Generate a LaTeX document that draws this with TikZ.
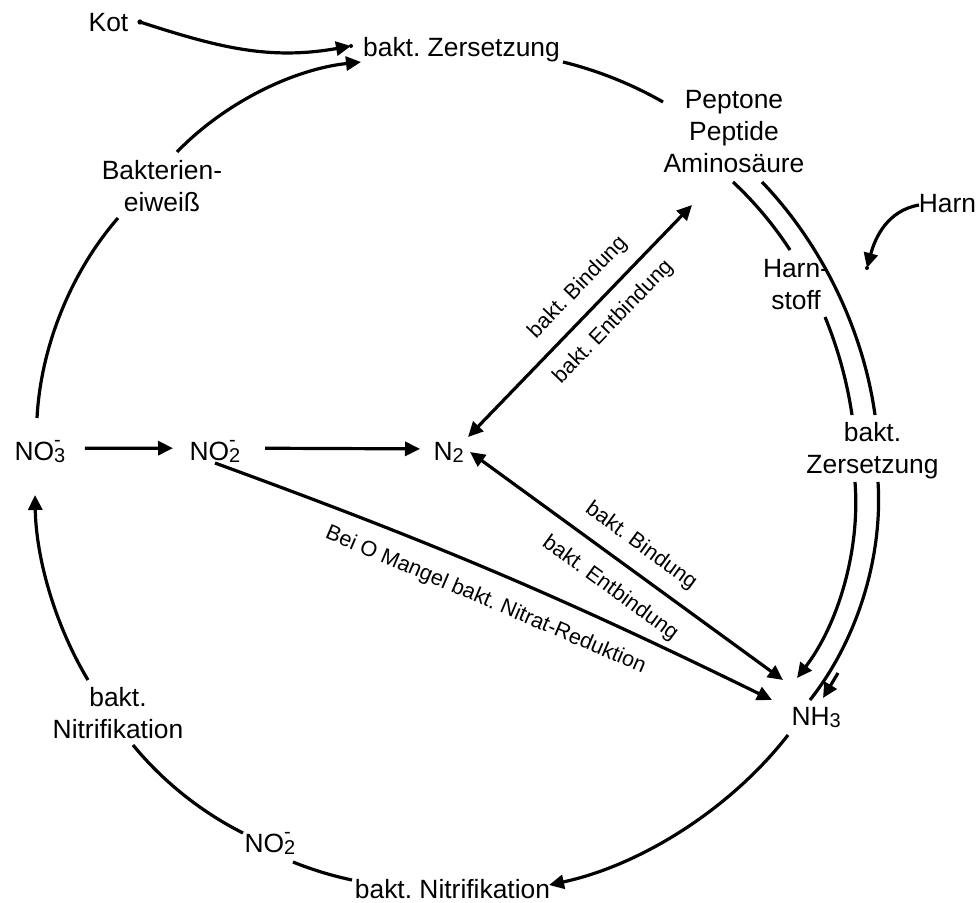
\documentclass[tikz,border=0pt]{standalone}
\usepackage{fontspec}
\setmainfont{Liberation Sans}
\usetikzlibrary{arrows.meta}
\frenchspacing
\newcommand\chemion[1]{\rlap{\raisebox{6.8pt}{\fontsize{10}{10}\selectfont -}}\raisebox{-1pt}{\fontsize{10}{10}\selectfont #1}}
\newcommand\chemsub[1]{\raisebox{-1pt}{\fontsize{10}{10}\selectfont #1}}
\begin{document}
\begin{tikzpicture}[x=0.5pt,y=0.5pt,line width=1.6pt,
  txt/.style={font=\fontsize{13.2}{16}\selectfont, inner sep=0pt, align=center},
  lbl/.style={font=\fontsize{10.8}{13}\selectfont, sloped, inner sep=6.5pt},
  arr/.style={-{Triangle[length=7.5pt,width=7pt]}},
  dbl/.style={{Triangle[length=7.5pt,width=7pt]}-{Triangle[length=7.5pt,width=7pt]}},
  arcl/.style={looseness=0.85}]
\fill[white] (0,0) rectangle (978,-903);
\useasboundingbox (0,0) rectangle (978,-903);

% text nodes
\node[txt, anchor=base] (kot) at (108.5,-32) {Kot};
\node[txt, anchor=base] (zerstop) at (461.5,-57) {bakt. Zersetzung};
\node[txt, anchor=north] (pep) at (734,-89) {Peptone\\Peptide\\Aminosäure};
\node[txt, anchor=north] (harnstoff) at (796,-258) {Harn-\\stoff};
\node[txt, anchor=base] (harn) at (947.5,-213) {Harn};
\node[txt, anchor=north] (zersr) at (872.5,-421) {bakt.\\Zersetzung};
\node[txt, anchor=north] (eiw) at (162,-159) {Bakterien-\\eiweiß};
\node[txt, anchor=base west] (no3) at (13,-460) {NO\chemion{3}};
\node[txt, anchor=base west] (no2) at (188,-460) {NO\chemion{2}};
\node[txt, anchor=base west] (ntwo) at (432,-460) {N\chemsub{2}};
\node[txt, anchor=north] (nitl) at (118,-686) {bakt.\\Nitrifikation};
\node[txt, anchor=base west] (no2b) at (243,-852) {NO\chemion{2}};
\node[txt, anchor=base] (nitb) at (452.5,-898) {bakt. Nitrifikation};
\node[txt, anchor=base west] (nh3) at (790,-725) {NH\chemsub{3}};

% connector end points
\coordinate (kotS) at (140,-22);
\coordinate (kotE) at (351,-46);
\coordinate (e1) at (177,-152);
\coordinate (e2) at (361,-62);
\coordinate (l1) at (37,-418);
\coordinate (l2) at (118,-218);
\coordinate (t1) at (563,-62);
\coordinate (t2) at (663,-102);
\coordinate (i1) at (733,-182);
\coordinate (i2) at (790,-250);
\coordinate (i3) at (825,-317);
\coordinate (i4) at (852,-415);
\coordinate (i5) at (855,-482);
\coordinate (i6) at (797,-678);
\coordinate (o1) at (762,-182);
\coordinate (o2) at (875,-415);
\coordinate (o3) at (878,-482);
\coordinate (o4) at (810,-700);
\coordinate (s1) at (838,-673);
\coordinate (s2) at (823,-698);
\coordinate (h1) at (919,-205);
\coordinate (h2) at (867,-268);
\coordinate (b1) at (788,-735);
\coordinate (b2) at (549,-885);
\coordinate (b3) at (352,-880);
\coordinate (b4) at (293,-862);
\coordinate (b5) at (243,-833);
\coordinate (b6) at (133,-745);
\coordinate (la1) at (88,-680);
\coordinate (la2) at (35,-495);
\coordinate (d1) at (468,-437);
\coordinate (d2) at (692,-205);
\coordinate (d3) at (470,-452);
\coordinate (d4) at (783,-680);
\coordinate (d5) at (215,-463);
\coordinate (d6) at (772,-700);

% Kot and Harn inputs
\draw[arr] (kotS) to[out=-18, in=190] (kotE);
\fill (kotS) circle (1.3pt);
\fill (kotE) circle (1pt);
\draw[arr] (h1) to[out=190, in=75] (h2);
\fill (h2) circle (1pt);

% outer cycle
\draw[arr, arcl] (e1) to[bend left=20] (e2);
\draw[arcl] (l1) to[bend left=19] (l2);
\draw[arcl] (t1) to[bend left=8] (t2);
\draw[arcl] (i1) to[bend left=7] (i2);
\draw[arcl] (i3) to[bend left=7] (i4);
\draw[arr, arcl] (i5) to[bend left=21] (i6);
\draw[arcl] (o1) to[bend left=18] (o2);
\draw[arcl] (o3) to[bend left=21] (o4);
\draw[arr] (s1) -- (s2);
\draw[arr, arcl] (b1) to[bend left=20] (b2);
\draw[arcl] (b3) to[bend left=5] (b4);
\draw[arcl] (b5) to[bend left=12] (b6);
\draw[arr, arcl] (la1) to[bend left=15] (la2);

% inner connections
\draw[arr, shorten <=9pt, shorten >=7.5pt] ([yshift=1.5pt]no3.east) -- ([yshift=1.5pt]no2.west);
\draw[arr, shorten <=11.6pt, shorten >=6pt] ([yshift=1.5pt]no2.east) -- ([yshift=1.5pt]ntwo.west);
\draw[dbl] (d1) -- node[lbl, above, pos=0.57] {bakt. Bindung}
                   node[lbl, below, pos=0.57] {bakt. Entbindung} (d2);
\draw[dbl] (d3) -- node[lbl, above, pos=0.5] {bakt. Bindung}
                   node[lbl, below, pos=0.5, inner sep=8pt] {bakt. Entbindung} (d4);
\draw[arr] (d5) to[bend left=3] node[lbl, below, inner sep=9pt] {Bei O Mangel bakt. Nitrat-Reduktion} (d6);
\end{tikzpicture}
\end{document}
